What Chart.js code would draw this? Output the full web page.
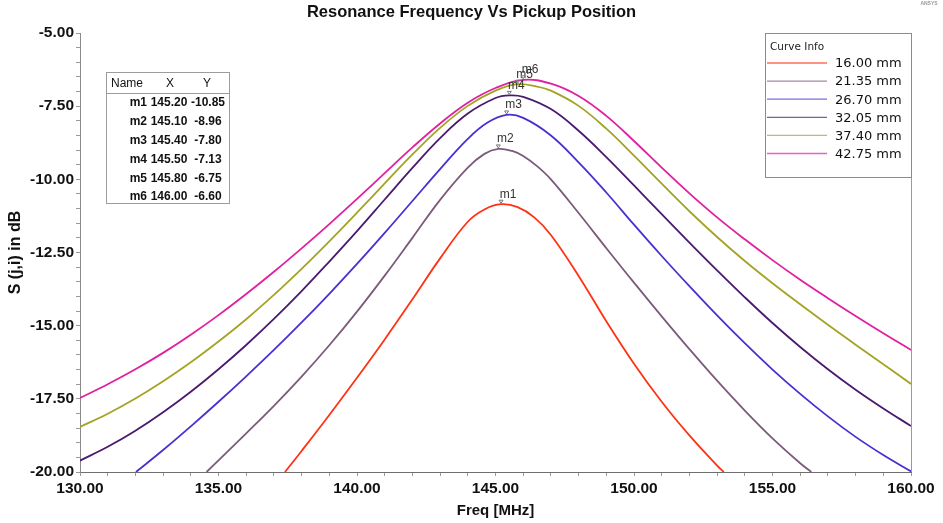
<!DOCTYPE html>
<html>
<head>
<meta charset="utf-8">
<script src="https://cdn.jsdelivr.net/npm/chart.js@4.4.1/dist/chart.umd.min.js"></script>
<style>
  html, body { margin: 0; padding: 0; background: #fff; }
</style>
</head>
<body>
<canvas id="chart" width="943" height="523"></canvas>
<script>
// curve values (Freq in MHz, S in dB)
const f16 = [137.4, 138, 139, 140, 141, 142, 143, 144, 144.6, 145.2, 145.8, 146.4, 147, 148, 149, 150, 151, 152, 153, 153.24];
const s16 = [-20, -19.28, -18.05, -16.78, -15.47, -14.1, -12.7, -11.45, -11.03, -10.85, -10.95, -11.3, -11.9, -13.3, -14.85, -16.3, -17.6, -18.75, -19.78, -20];

const f2135 = [134.57, 135, 136, 137, 138, 139, 140, 141, 142, 143, 144, 144.6, 145.1, 145.6, 146, 146.5, 147, 148, 149, 150, 151, 152, 153, 154, 155, 156, 156.4];
const s2135 = [-20, -19.6, -18.68, -17.74, -16.74, -15.67, -14.52, -13.29, -12.0, -10.7, -9.6, -9.13, -8.96, -9.03, -9.2, -9.55, -10.0, -11.15, -12.35, -13.53, -14.68, -15.8, -16.88, -17.9, -18.85, -19.7, -20];

const f2670 = [132.02, 133, 134, 135, 136, 137, 138, 139, 140, 141, 142, 143, 144, 144.7, 145.4, 146, 147, 148, 149, 150, 151, 152, 153, 154, 155, 156, 157, 158, 159, 160];
const s2670 = [-20, -19.25, -18.44, -17.6, -16.73, -15.83, -14.89, -13.91, -12.89, -11.83, -10.74, -9.65, -8.62, -8.07, -7.8, -7.9, -8.5, -9.42, -10.45, -11.55, -12.62, -13.65, -14.65, -15.6, -16.5, -17.33, -18.1, -18.8, -19.42, -19.98];

const f3205 = [130, 131, 132, 133, 134, 135, 136, 137, 138, 139, 140, 141, 142, 143, 144, 145, 145.5, 146, 147, 148, 149, 150, 151, 152, 153, 154, 155, 156, 157, 158, 159, 160];
const s3205 = [-19.61, -19.14, -18.59, -17.96, -17.26, -16.49, -15.66, -14.77, -13.82, -12.81, -11.77, -10.69, -9.61, -8.59, -7.75, -7.22, -7.13, -7.18, -7.6, -8.34, -9.24, -10.21, -11.19, -12.16, -13.11, -14.03, -14.91, -15.73, -16.49, -17.19, -17.83, -18.43];

const f3740 = [130, 131, 132, 133, 134, 135, 136, 137, 138, 139, 140, 141, 142, 143, 144, 145, 145.8, 146.5, 147, 148, 149, 150, 151, 152, 153, 154, 155, 156, 157, 158, 159, 160];
const s3740 = [-18.46, -18.01, -17.49, -16.9, -16.25, -15.54, -14.78, -13.95, -13.06, -12.12, -11.14, -10.14, -9.15, -8.24, -7.49, -6.97, -6.75, -6.83, -6.97, -7.49, -8.27, -9.19, -10.15, -11.09, -11.97, -12.79, -13.55, -14.27, -14.97, -15.65, -16.32, -16.99];

const f4275 = [130, 131, 132, 133, 134, 135, 136, 137, 138, 139, 140, 141, 142, 143, 144, 145, 146, 147, 148, 149, 150, 151, 152, 153, 154, 155, 156, 157, 158, 159, 160];
const s4275 = [-17.47, -17.0, -16.49, -15.93, -15.31, -14.64, -13.92, -13.16, -12.36, -11.53, -10.67, -9.79, -8.91, -8.09, -7.38, -6.88, -6.6, -6.73, -7.15, -7.83, -8.69, -9.6, -10.48, -11.3, -12.05, -12.76, -13.43, -14.06, -14.67, -15.26, -15.83];

const curveLabels = ['16.00 mm', '21.35 mm', '26.70 mm', '32.05 mm', '37.40 mm', '42.75 mm'];
const curveColors = ['#ff3214', '#7c5a7a', '#4b2fd0', '#4a1a6e', '#a3a324', '#e0209e'];

const markerNames = ['m1', 'm2', 'm3', 'm4', 'm5', 'm6'];
const markerFreq = [145.20, 145.10, 145.40, 145.50, 145.80, 146.00];
const markerDb = [-10.85, -8.96, -7.80, -7.13, -6.75, -6.60];

const curves = [[f16, s16], [f2135, s2135], [f2670, s2670], [f3205, s3205], [f3740, s3740], [f4275, s4275]];

const FONT = 'Liberation Sans, Arial, sans-serif';
const chartTitle = 'Resonance Frequency Vs Pickup Position';

function isMajor(v, step) {
  const r = v / step;
  return Math.abs(r - Math.round(r)) < 1e-6;
}

const extras = {
  id: 'extras',
  afterDraw(chart) {
    const ctx = chart.ctx;
    const x = chart.scales.x, y = chart.scales.y;
    const a = chart.chartArea;
    ctx.save();

    // title, centred on the whole canvas
    ctx.font = 'bold 16.5px ' + FONT;
    ctx.fillStyle = '#111';
    ctx.textAlign = 'center';
    ctx.textBaseline = 'middle';
    ctx.fillText(chartTitle, chart.width / 2, 12);

    // right frame line
    ctx.strokeStyle = '#9a9a9a';
    ctx.lineWidth = 1;
    ctx.beginPath();
    ctx.moveTo(Math.round(a.right) + 0.5, a.top);
    ctx.lineTo(Math.round(a.right) + 0.5, a.bottom);
    ctx.stroke();

    // peak markers
    ctx.font = '12px ' + FONT;
    for (let i = 0; i < markerNames.length; i++) {
      const px = x.getPixelForValue(markerFreq[i]);
      const py = y.getPixelForValue(markerDb[i]);
      ctx.strokeStyle = '#777';
      ctx.beginPath();
      ctx.moveTo(px - 2, py - 4);
      ctx.lineTo(px + 2, py - 4);
      ctx.lineTo(px, py - 1);
      ctx.closePath();
      ctx.stroke();
      ctx.fillStyle = '#333';
      ctx.fillText(markerNames[i], px + 7, py - 10);
    }

    // marker table
    ctx.fillStyle = '#fff';
    ctx.fillRect(106, 72, 123, 131);
    ctx.strokeStyle = '#9c9c9c';
    ctx.strokeRect(106.5, 72.5, 123, 131);
    ctx.beginPath();
    ctx.moveTo(107, 93.5);
    ctx.lineTo(229, 93.5);
    ctx.stroke();
    ctx.fillStyle = '#111';
    ctx.font = '12px ' + FONT;
    ctx.fillText('Name', 127, 84);
    ctx.fillText('X', 170, 84);
    ctx.fillText('Y', 207, 84);
    ctx.font = 'bold 12px ' + FONT;
    for (let i = 0; i < markerNames.length; i++) {
      const ry = 103 + i * 18.8;
      ctx.textAlign = 'right';
      ctx.fillText(markerNames[i], 147, ry);
      ctx.textAlign = 'center';
      ctx.fillText(markerFreq[i].toFixed(2), 169, ry);
      ctx.fillText(markerDb[i].toFixed(2), 208, ry);
    }

    // curve info box
    ctx.fillStyle = '#fff';
    ctx.fillRect(765, 33, 146, 144);
    ctx.strokeStyle = '#8c8c8c';
    ctx.strokeRect(765.5, 33.5, 146, 144);
    ctx.textAlign = 'left';
    ctx.fillStyle = '#222';
    ctx.font = '10.5px DejaVu Sans, sans-serif';
    ctx.fillText('Curve Info', 770, 47);
    ctx.font = '13px DejaVu Sans, sans-serif';
    for (let i = 0; i < curveLabels.length; i++) {
      const ly = 63 + i * 18.1;
      ctx.globalAlpha = 0.7;
      ctx.strokeStyle = curveColors[i];
      ctx.lineWidth = 1.3;
      ctx.beginPath();
      ctx.moveTo(767, ly);
      ctx.lineTo(827, ly);
      ctx.stroke();
      ctx.globalAlpha = 1;
      ctx.fillStyle = '#111';
      ctx.fillText(curveLabels[i], 835, ly + 1);
    }

    // logo text
    ctx.font = 'bold 5px ' + FONT;
    ctx.fillStyle = '#9a9a9a';
    ctx.textAlign = 'center';
    ctx.fillText('ANSYS', 929, 4);
    ctx.restore();
  }
};

new Chart(document.getElementById('chart'), {
  type: 'line',
  data: {
    datasets: curves.map((c, i) => ({
      label: curveLabels[i],
      data: c[0].map((fv, k) => ({ x: fv, y: c[1][k] })),
      borderColor: curveColors[i],
      borderWidth: 1.8,
      pointRadius: 0,
      fill: false,
      tension: 0.4
    }))
  },
  options: {
    responsive: false,
    animation: false,
    layout: { padding: { left: 0, right: 32, top: 33, bottom: 0 } },
    plugins: {
      legend: { display: false },
      tooltip: { enabled: false },
      title: { display: false }
    },
    scales: {
      x: {
        type: 'linear',
        min: 130,
        max: 160,
        afterFit: s => { s.height = 51; },
        ticks: {
          stepSize: 1,
          autoSkip: false,
          maxRotation: 0,
          padding: 3,
          color: '#111',
          font: { family: FONT, size: 15.5, weight: 'bold' },
          callback: v => isMajor(v, 5) ? v.toFixed(2) : ''
        },
        grid: { drawOnChartArea: false, tickLength: 4, color: '#9a9a9a' },
        border: { color: '#6f6f6f' },
        title: {
          display: true,
          text: 'Freq [MHz]',
          color: '#111',
          font: { family: FONT, size: 15, weight: 'bold' },
          padding: { top: 0, bottom: 3 }
        }
      },
      y: {
        min: -20,
        max: -5,
        afterFit: s => { s.width = 80; },
        ticks: {
          stepSize: 0.5,
          autoSkip: false,
          padding: 2,
          color: '#111',
          font: { family: FONT, size: 15.5, weight: 'bold' },
          callback: v => isMajor(v, 2.5) ? v.toFixed(2) : ''
        },
        grid: { drawOnChartArea: false, tickLength: 4, color: '#9a9a9a' },
        border: { color: '#8a8a8a' },
        title: {
          display: true,
          text: 'S (j,i) in dB',
          color: '#111',
          font: { family: FONT, size: 16, weight: 'bold' },
          padding: { top: 6, bottom: 0 }
        }
      }
    }
  },
  plugins: [extras]
});
</script>
</body>
</html>
